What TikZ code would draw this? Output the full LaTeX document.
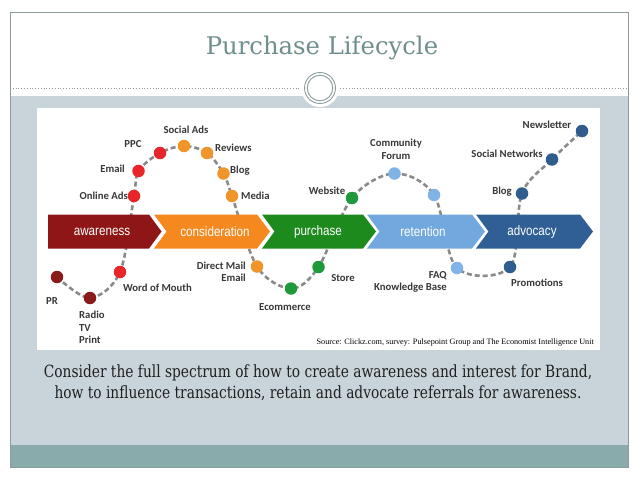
\documentclass[tikz,border=0pt]{standalone}
\usepackage{fontspec}
\setmainfont{DejaVu Serif}
\newfontfamily\titlefont{DejaVu Serif}
\newfontfamily\capfont[FakeStretch=0.82]{DejaVu Serif}
\newfontfamily\srcfont{Liberation Serif}
\newfontfamily\lblfont{Carlito}
\newfontfamily\chevfont[FakeStretch=0.85]{Liberation Sans}
\definecolor{framegray}{HTML}{8C9C9C}
\definecolor{bandgray}{HTML}{C9D4DA}
\definecolor{bandteal}{HTML}{8AABAB}
\definecolor{titlecol}{HTML}{6F8F8E}
\definecolor{awarecol}{HTML}{8E1616}
\definecolor{considcol}{HTML}{F5891F}
\definecolor{purchcol}{HTML}{1D8A1D}
\definecolor{retcol}{HTML}{72A8DE}
\definecolor{advcol}{HTML}{2F5F95}
\definecolor{dkred}{HTML}{8B1A1A}
\definecolor{brred}{HTML}{E8262A}
\definecolor{dotor}{HTML}{F0952A}
\definecolor{dotgr}{HTML}{1E9A3A}
\definecolor{dotlb}{HTML}{80B3E6}
\definecolor{dotdb}{HTML}{2E5D8E}
\definecolor{lblcol}{HTML}{383838}
\definecolor{curvecol}{HTML}{8A8A8A}
\pgfdeclarelayer{back}
\pgfdeclarelayer{mid}
\pgfsetlayers{back,mid,main}
\begin{document}
\begin{tikzpicture}[x=1pt,y=-1pt,
  dotnode/.style={circle, inner sep=0pt, minimum size=12.5pt, fill=#1},
  lbl/.style={inner sep=0pt, text=lblcol, font=\lblfont\bfseries\fontsize{10.7}{12.5}\selectfont},
  chevtext/.style={inner sep=0pt, text=white, font=\chevfont\fontsize{13.7}{15}\selectfont},
  curve/.style={draw=curvecol, line width=2.6pt, dash pattern=on 5pt off 3pt},
  chevshape/.style={fill=#1, draw=none}]
\useasboundingbox (0,0) rectangle (638,479);
\begin{pgfonlayer}{back}
  \fill[white] (0,0) rectangle (638,479);
  \fill[bandgray] (10,96) rectangle (628,445);
  \fill[bandteal] (10,445) rectangle (628,467);
  \draw[framegray, line width=0.8pt] (10,12) rectangle (628,467);
  \draw[framegray, line width=0.8pt, dotted] (10,88) -- (628,88);
  \fill[white] (320,88) circle (19);
  \draw[framegray, line width=0.9pt] (320,88) circle (15.5);
  \draw[framegray, line width=0.9pt] (320,88) circle (12.8);
  \fill[white] (37,108) rectangle (600,350);
\end{pgfonlayer}

\node[inner sep=0pt, text=titlecol, font=\titlefont\fontsize{24.3}{28}\selectfont] (title) at (322,48) {Purchase Lifecycle};

% dots
\node[dotnode=dkred] (pr) at (57,277) {};
\node[dotnode=dkred] (radio) at (90,298) {};
\node[dotnode=brred] (wom) at (120,272) {};
\node[dotnode=brred] (online) at (134,196) {};
\node[dotnode=brred] (email) at (138.5,171) {};
\node[dotnode=brred] (ppc) at (160,153) {};
\node[dotnode=dotor] (social) at (184,146) {};
\node[dotnode=dotor] (reviews) at (207,153) {};
\node[dotnode=dotor] (blog) at (223.5,173.5) {};
\node[dotnode=dotor] (media) at (232,196) {};
\node[dotnode=dotor] (direct) at (257,266.5) {};
\node[dotnode=dotgr] (ecom) at (291,288.5) {};
\node[dotnode=dotgr] (store) at (318.5,267) {};
\node[dotnode=dotgr] (website) at (352,198) {};
\node[dotnode=dotlb] (forum) at (394.5,173.5) {};
\node[dotnode=dotlb] (retdot) at (434,195) {};
\node[dotnode=dotlb] (faq) at (457,268) {};
\node[dotnode=dotdb] (promo) at (510,267) {};
\node[dotnode=dotdb] (blogb) at (522,193.5) {};
\node[dotnode=dotdb] (socnet) at (552,159.5) {};
\node[dotnode=dotdb] (news) at (582,131) {};

% curve and chevrons
\begin{pgfonlayer}{mid}
  \draw[curve] plot[smooth, tension=0.55] coordinates {(pr.center) (radio.center) (wom.center) (online.center) (email.center) (ppc.center) (social.center) (reviews.center) (blog.center) (media.center) (direct.center) (ecom.center) (store.center) (website.center) (forum.center) (retdot.center) (faq.center) (promo.center) (blogb.center) (socnet.center) (news.center)};
  \fill[chevshape=awarecol] (48,214.5) -- (149,214.5) -- (161.5,231.5) -- (149,248.5) -- (48,248.5) -- cycle;
  \fill[chevshape=considcol] (154,214.5) -- (257,214.5) -- (270,231.5) -- (257,248.5) -- (154,248.5) -- (166.5,231.5) -- cycle;
  \fill[chevshape=purchcol] (262,214.5) -- (363,214.5) -- (376,231.5) -- (363,248.5) -- (262,248.5) -- (274.5,231.5) -- cycle;
  \fill[chevshape=retcol] (367,214.5) -- (472,214.5) -- (485,231.5) -- (472,248.5) -- (367,248.5) -- (379.5,231.5) -- cycle;
  \fill[chevshape=advcol] (476,214.5) -- (580,214.5) -- (593,231.5) -- (580,248.5) -- (476,248.5) -- (488.5,231.5) -- cycle;
\end{pgfonlayer}
\node[chevtext] (awareness) at (102,232) {awareness};
\node[chevtext] (consideration) at (215,232) {consideration};
\node[chevtext] (purchase) at (318,232) {purchase};
\node[chevtext] (retention) at (423,232) {retention};
\node[chevtext] (advocacy) at (532,232) {advocacy};

% labels
\node[lbl] (prl) at (52,301) {PR};
\node[lbl, anchor=north west, align=left] (radiol) at (79,311) {Radio\\TV\\Print};
\node[lbl, anchor=west] (woml) at (123,288) {Word of Mouth};
\node[lbl, anchor=east] (onlinel) at (128,196) {Online Ads};
\node[lbl, anchor=east] (emaill) at (125,169) {Email};
\node[lbl] (ppcl) at (133,144) {PPC};
\node[lbl] (sociall) at (186,130) {Social Ads};
\node[lbl, anchor=west] (reviewsl) at (215,148) {Reviews};
\node[lbl, anchor=west] (blogl) at (230,171) {Blog};
\node[lbl, anchor=west] (medial) at (241,196) {Media};
\node[lbl, anchor=east, align=right] (directl) at (246,272) {Direct Mail\\Email};
\node[lbl] (ecoml) at (285,307) {Ecommerce};
\node[lbl] (storel) at (343,278) {Store};
\node[lbl] (websitel) at (327,191) {Website};
\node[lbl, align=center] (foruml) at (396,149.5) {Community\\Forum};
\node[lbl, anchor=east, align=right] (faql) at (447,282) {FAQ\\Knowledge Base};
\node[lbl] (promol) at (537,283) {Promotions};
\node[lbl] (blogbl) at (502,192) {Blog};
\node[lbl] (socnetl) at (507,154) {Social Networks};
\node[lbl] (newsl) at (547,125) {Newsletter};

\node[inner sep=0pt, anchor=east, font=\srcfont\fontsize{8.2}{10}\selectfont] (source) at (594,343) {Source: Clickz.com, survey: Pulsepoint Group and The Economist Intelligence Unit};

\node[inner sep=0pt, align=center, text=black!88, font=\capfont\fontsize{16.8}{21}\selectfont] (caption) at (318,383) {Consider the full spectrum of how to create awareness and interest for Brand,\\how to influence transactions, retain and advocate referrals for awareness.};
\end{tikzpicture}
\end{document}
